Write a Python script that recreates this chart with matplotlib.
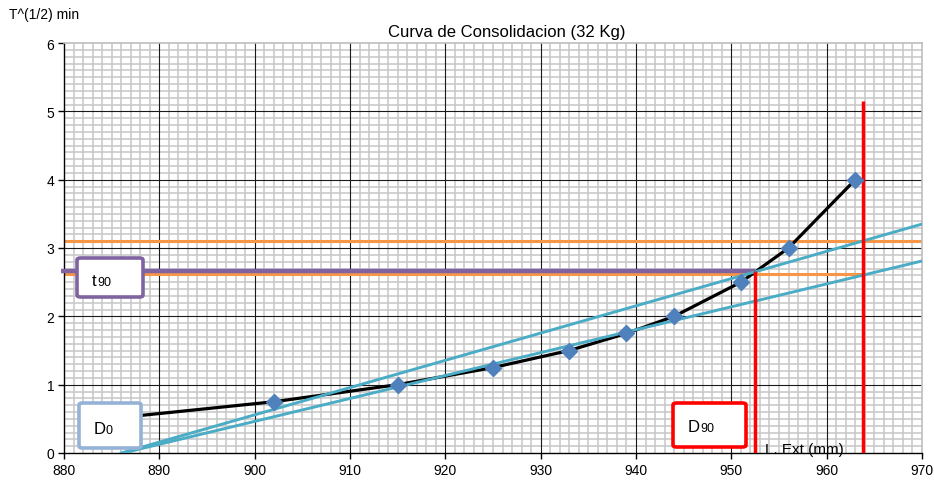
import matplotlib
matplotlib.use("Agg")
import matplotlib.pyplot as plt
from matplotlib.patches import FancyBboxPatch
from matplotlib.ticker import MultipleLocator

plt.rcParams['font.family'] = ['Liberation Sans', 'DejaVu Sans']

# Data: curve (L. Ext mm vs sqrt(t) min)
lext = [886, 902, 915, 925, 933, 939, 944, 951, 956, 963]
sqrt_t = [0.52, 0.75, 1.0, 1.25, 1.5, 1.75, 2.0, 2.5, 3.0, 4.0]

# Construction lines
tan1_x = [886.0, 970.0]
tan1_y = [0.0, 3.35]
tan2_x = [886.2, 970.0]
tan2_y = [0.0, 2.81]
orange1_x = [880, 970]
orange1_y = [3.10, 3.10]
orange2_x = [880, 963.8]
orange2_y = [2.62, 2.62]
purple_x = [879.7, 952.5]
purple_y = [2.66, 2.66]
red1_x = [952.5, 952.5]
red1_y = [0.0, 2.66]
red2_x = [963.8, 963.8]
red2_y = [0.0, 5.15]

W, H = 934, 481
fig = plt.figure(figsize=(W / 100, H / 100), dpi=100)
L, R, B, T = 64, 922, 454, 44
ax = fig.add_axes([L / W, (H - B) / H, (R - L) / W, (B - T) / H])
ax.set_xlim(880, 970)
ax.set_ylim(0, 6)
ax.xaxis.set_major_locator(MultipleLocator(10))
ax.yaxis.set_major_locator(MultipleLocator(1))
ax.xaxis.set_minor_locator(MultipleLocator(1))
ax.yaxis.set_minor_locator(MultipleLocator(0.1))
ax.grid(which='minor', color='#c6c6c6', linewidth=1.1, zorder=0)
ax.set_axisbelow(True)
for xv in range(890, 970, 10):
    ax.axvline(xv, color='#1a1a1a', linewidth=0.8, zorder=0.8)
for yv in range(1, 6):
    ax.axhline(yv, color='#1a1a1a', linewidth=0.8, zorder=0.8)
ax.tick_params(which='minor', length=0)
ax.tick_params(which='major', length=4, width=1, color='black', labelsize=10, pad=3)
for s in ['top', 'right']:
    ax.spines[s].set_color('#bdbdbd')
    ax.spines[s].set_linewidth(1.2)
for s in ['left', 'bottom']:
    ax.spines[s].set_color('black')
    ax.spines[s].set_linewidth(1.0)

ax.plot(orange1_x, orange1_y, color='#f79646', lw=2.2, zorder=2, solid_capstyle='butt')
ax.plot(orange2_x, orange2_y, color='#f79646', lw=2.2, zorder=2, solid_capstyle='butt')
ax.plot(purple_x, purple_y, color='#8064a2', lw=3.2, zorder=3, solid_capstyle='butt', clip_on=False)
ax.plot(lext, sqrt_t, color='black', lw=2.3, zorder=4)
ax.plot(tan1_x, tan1_y, color='#4bacc6', lw=2.1, zorder=5)
ax.plot(tan2_x, tan2_y, color='#4bacc6', lw=2.1, zorder=5)
ax.plot(red1_x, red1_y, color='#ff0000', lw=2.5, zorder=6, solid_capstyle='butt')
ax.plot(red2_x, red2_y, color='#ff0000', lw=2.5, zorder=6, solid_capstyle='butt')
ax.plot(lext[1:], sqrt_t[1:], linestyle='none', marker='D', markersize=8,
        color='#4f81bd', markeredgecolor='#4f81bd', zorder=7)

def px_box(x0, y0, x1, y1, ec):
    bx = FancyBboxPatch((x0 / W, 1 - y1 / H), (x1 - x0) / W, (y1 - y0) / H,
                        boxstyle='round,pad=0,rounding_size=0.004',
                        transform=fig.transFigure, facecolor='white',
                        edgecolor=ec, linewidth=2.6, zorder=10)
    fig.patches.append(bx)

def px_text(x, y, s, size, **kw):
    fig.text(x / W, 1 - y / H, s, fontsize=size, transform=fig.transFigure,
             zorder=11, **kw)

px_box(79, 404, 141, 449, '#95b3d7')
px_text(94, 434, 'D', 12, va='baseline')
px_text(106, 434, '0', 9, va='baseline')

px_box(77, 259, 143, 298, '#8064a2')
px_text(92, 286, 't', 12, va='baseline')
px_text(97, 286, '90', 9, va='baseline')

px_box(673, 404, 746, 448, '#ff0000')
px_text(688, 432, 'D', 12, va='baseline')
px_text(700, 432, '90', 9, va='baseline')

px_text(765, 454, 'L. Ext (mm)', 11, va='baseline')
px_text(507, 32, 'Curva de Consolidacion (32 Kg)', 12, ha='center', va='center')
px_text(9, 15, 'T^(1/2) min', 10, va='center')

fig.savefig('out.png', dpi=100)
